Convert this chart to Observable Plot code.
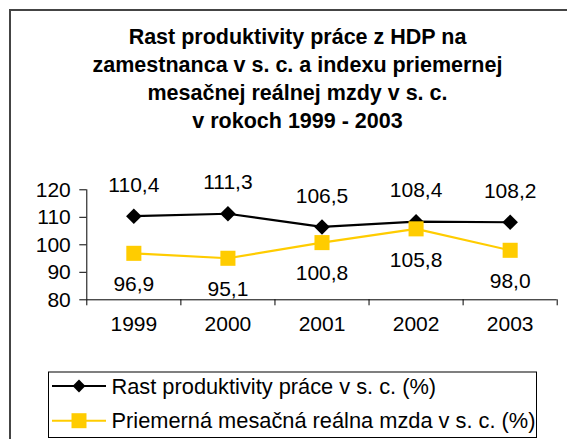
<!DOCTYPE html>
<html>
<head>
<meta charset="utf-8">
<script src="https://cdn.jsdelivr.net/npm/d3@7"></script>
<script src="https://cdn.jsdelivr.net/npm/@observablehq/plot@0.6"></script>
<style>
  html, body { margin: 0; padding: 0; background: #fff; }
  #page { position: relative; width: 567px; height: 439px; overflow: hidden; background: #fff;
          font-family: "Liberation Sans", Arial, sans-serif; color: #000; }
  #frame { position: absolute; left: 9px; top: 9px; width: 700px; height: 600px;
           border: 2px solid #444; box-sizing: border-box; }
  #title { position: absolute; left: 0; top: 22.5px; width: 595px; text-align: center;
           font-weight: bold; font-size: 21.5px; line-height: 28px; }
  #plot { position: absolute; left: 0; top: 150px; }
  #legend { position: absolute; left: 0; top: 0; }
</style>
</head>
<body>
<div id="page">
  <div id="frame"></div>
  <div id="title">Rast produktivity práce z HDP na<br>zamestnanca v s. c. a indexu priemernej<br>mesačnej reálnej mzdy v s. c.<br>v rokoch 1999 - 2003</div>
  <div id="plot"></div>
  <svg id="legend" width="567" height="439"></svg>
</div>
<script>
// ---- data ----
const years = [1999, 2000, 2001, 2002, 2003];
const productivity = [110.4, 111.3, 106.5, 108.4, 108.2];
const wage = [96.9, 95.1, 100.8, 105.8, 98.0];
const yTicks = [80, 90, 100, 110, 120];
const seriesNames = ["Rast produktivity práce v s. c. (%)", "Priemerná mesačná reálna mzda v s. c. (%)"];
const seriesColors = ["#000000", "#FFCC00"];

const rows = years.map((y, i) => ({year: y, prod: productivity[i], wage: wage[i]}));
const fmt = v => v.toFixed(1).replace(".", ",");
const bounds = years.map(y => y - 0.5).concat([years[years.length - 1] + 0.5]);

const chart = Plot.plot({
  width: 567,
  height: 210,
  marginTop: 39.3,
  marginBottom: 60.7,
  marginLeft: 86.3,
  marginRight: 10.3,
  x: {domain: [bounds[0], bounds[bounds.length - 1]], label: null},
  y: {domain: [yTicks[0], yTicks[yTicks.length - 1]], label: null},
  style: {fontFamily: "'Liberation Sans', Arial, sans-serif", fontSize: "21px", color: "#000", background: "transparent", overflow: "visible"},
  marks: [
    Plot.axisY({ticks: yTicks, tickSize: 7, tickPadding: 9, tickFormat: d => String(d), fontSize: 21, strokeWidth: 1, label: null}),
    Plot.axisX({ticks: bounds, tickSize: 6, tickFormat: () => "", strokeWidth: 1, label: null}),
    Plot.ruleX([bounds[0]], {stroke: "#000", strokeWidth: 1}),
    Plot.ruleY([yTicks[0]], {stroke: "#000", strokeWidth: 1}),
    Plot.text(rows, {x: "year", text: d => String(d.year), frameAnchor: "bottom", dy: 31, fontSize: 21}),
    Plot.line(rows, {x: "year", y: "prod", stroke: seriesColors[0], strokeWidth: 2.2}),
    Plot.dot(rows, {x: "year", y: "prod", symbol: "diamond2", r: 7, fill: seriesColors[0], stroke: "none"}),
    Plot.line(rows, {x: "year", y: "wage", stroke: seriesColors[1], strokeWidth: 2.2}),
    Plot.dot(rows, {x: "year", y: "wage", symbol: "square", r: 8.5, fill: seriesColors[1], stroke: "none"}),
    Plot.text(rows, {x: "year", y: "prod", text: d => fmt(d.prod), dy: -31, fontSize: 21}),
    Plot.text(rows, {x: "year", y: "wage", text: d => fmt(d.wage), dy: 31, fontSize: 21})
  ]
});
document.getElementById("plot").appendChild(chart);

// ---- legend ----
const lg = d3.select("#legend");
lg.append("rect").attr("x", 48.5).attr("y", 372).attr("width", 488).attr("height", 65.5)
  .attr("fill", "#fff").attr("stroke", "#000").attr("stroke-width", 1);
const rowY = [386, 420.7];
const symbols = [d3.symbol(d3.symbolDiamond2, 105), d3.symbol(d3.symbolSquare, 225)];
seriesNames.forEach((name, i) => {
  lg.append("line").attr("x1", 52).attr("x2", 106).attr("y1", rowY[i]).attr("y2", rowY[i])
    .attr("stroke", seriesColors[i]).attr("stroke-width", 2);
  lg.append("path").attr("d", symbols[i]()).attr("transform", `translate(79,${rowY[i]})`)
    .attr("fill", seriesColors[i]);
  lg.append("text").attr("x", 111.5).attr("y", rowY[i]).attr("dy", "0.35em")
    .attr("font-family", "'Liberation Sans', Arial, sans-serif").attr("font-size", 21.8)
    .attr("fill", "#000").text(name);
});
</script>
</body>
</html>
